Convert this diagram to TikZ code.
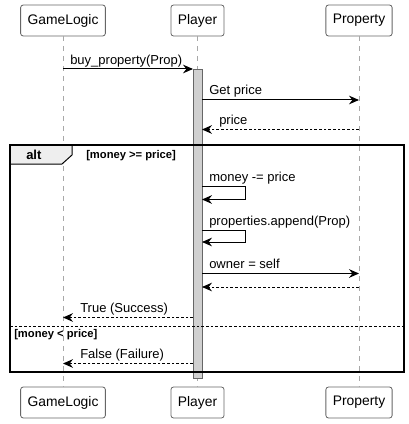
\documentclass[tikz,border=0pt]{standalone}
\usepackage{fontspec}
\setmainfont{Liberation Sans}
\usetikzlibrary{arrows.meta}
\definecolor{lifegrey}{HTML}{A8A8A8}
\definecolor{boxline}{HTML}{666666}
\definecolor{actfill}{HTML}{D0D0D0}
\definecolor{tabfill}{HTML}{EEEEEE}
\begin{document}
\begin{tikzpicture}[x=0.75pt,y=-0.75pt,
  part/.style={draw=boxline,fill=white,rounded corners=2pt,line width=0.6pt,minimum height=23.25pt,inner xsep=5.2pt,font=\fontsize{10.4}{12}\selectfont},
  lifeline/.style={draw=lifegrey,dash pattern=on 3.75pt off 3.75pt,line width=0.5pt},
  msg/.style={draw=black,line width=0.75pt,-{Stealth[length=7.5pt,width=6.5pt,inset=2.5pt]}},
  ret/.style={msg,dash pattern=on 2pt off 1.5pt},
  lbl/.style={font=\fontsize{9.75}{11}\selectfont,inner sep=0pt,anchor=base west},
  guard/.style={font=\bfseries\fontsize{8.4}{10}\selectfont,inner sep=0pt,anchor=base west}]
\useasboundingbox (0,0) rectangle (409,424);
% participants
\node[part] (gl) at (63,20.5) {GameLogic};
\node[part] (pl) at (197.5,20.5) {Player};
\node[part] (pr) at (359,20.5) {Property};
\node[part] (gl2) at (63,402.5) {GameLogic};
\node[part] (pl2) at (197.5,402.5) {Player};
\node[part] (pr2) at (359,402.5) {Property};
\draw[lifeline] (gl.south) -- (gl2.north);
\draw[lifeline] (pl.south) -- (pl2.north);
\draw[lifeline] (pr.south) -- (pr2.north);
% activation
\node[draw=boxline,fill=actfill,line width=0.5pt,inner sep=0pt,minimum width=6.75pt,minimum height=231.75pt,anchor=north] (act) at (197.5,69) {};
% alt frame
\draw[line width=0.75pt,fill=tabfill] (10,145) -- (72,145) -- (72,155) -- (62,164) -- (10,164) -- cycle;
\draw[line width=1.2pt] (10,145) rectangle (404,372);
\node[font=\bfseries\fontsize{9.75}{11}\selectfont,inner sep=0pt,anchor=base west] (alt) at (26,159) {alt};
\node[guard] (g1) at (86,158.5) {[money >= price]};
\draw[line width=0.6pt,dash pattern=on 2pt off 1.5pt] (10,326) -- (404,326);
\node[guard] (g2) at (14,337) {[money < price]};
% coordinates on lifelines
\coordinate (a1) at (63,69); \coordinate (b1) at (193,69);
\coordinate (a2) at (202,100); \coordinate (b2) at (359,100);
\coordinate (a3) at (359,129.5); \coordinate (b3) at (202,129.5);
\coordinate (a4) at (202,186.5); \coordinate (b4) at (202,199.5);
\coordinate (a5) at (202,230); \coordinate (b5) at (202,242);
\coordinate (a6) at (202,273.5); \coordinate (b6) at (359,273.5);
\coordinate (a7) at (359,287); \coordinate (b7) at (202,287);
\coordinate (a8) at (193,317.5); \coordinate (b8) at (63,317.5);
\coordinate (a9) at (193,363.5); \coordinate (b9) at (63,363.5);
% messages
\draw[msg] (a1) -- (b1);
\node[lbl] (m1) at (70,65) {buy\_property(Prop)};
\draw[msg] (a2) -- (b2);
\node[lbl] (m2) at (209,95) {Get price};
\draw[ret] (a3) -- (b3);
\node[lbl] (m3) at (219,124.5) {price};
\draw[msg] (a4) -- (245,186.5) -- (245,199.5) -- (b4);
\node[lbl] (m4) at (209,181.5) {money -= price};
\draw[msg] (a5) -- (245,230) -- (245,242) -- (b5);
\node[lbl] (m5) at (209,225) {properties.append(Prop)};
\draw[msg] (a6) -- (b6);
\node[lbl] (m6) at (209,268.5) {owner = self};
\draw[ret] (a7) -- (b7);
\draw[ret] (a8) -- (b8);
\node[lbl] (m8) at (80,312.5) {True (Success)};
\draw[ret] (a9) -- (b9);
\node[lbl] (m9) at (80,358.5) {False (Failure)};
\end{tikzpicture}
\end{document}
